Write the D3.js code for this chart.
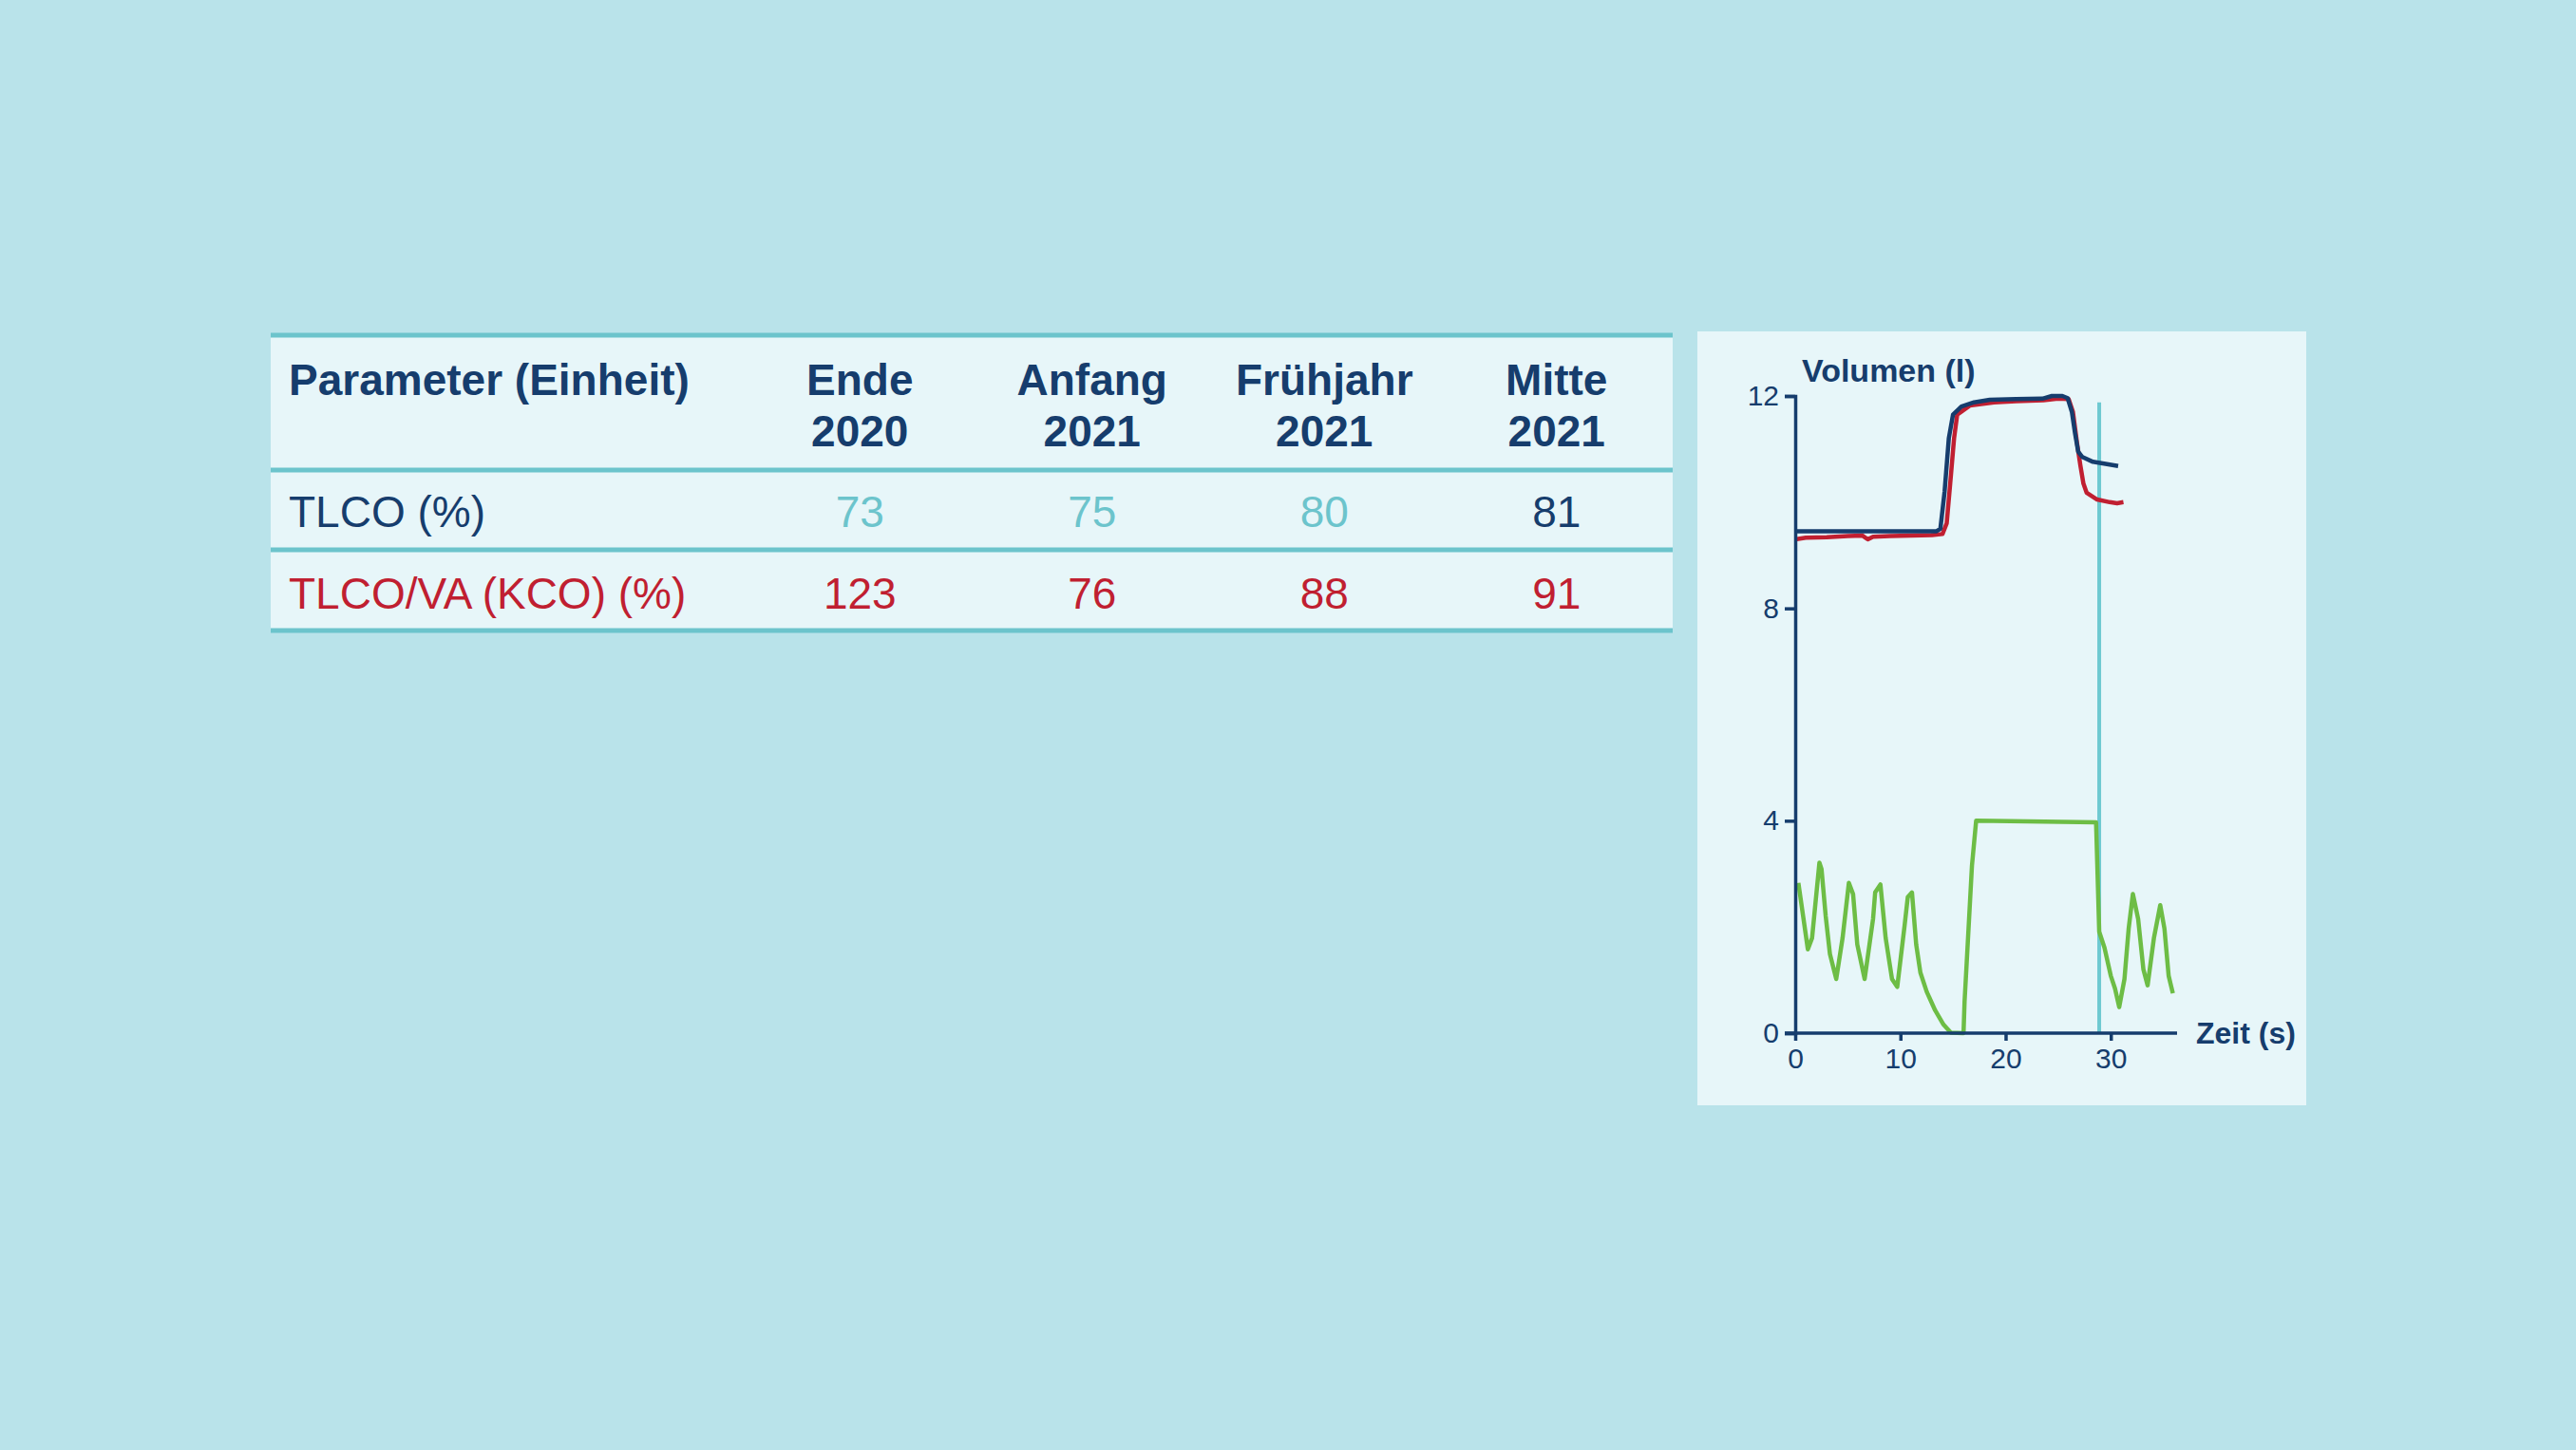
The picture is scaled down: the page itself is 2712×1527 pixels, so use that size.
<!DOCTYPE html>
<html>
<head>
<meta charset="utf-8">
<script src="https://cdn.jsdelivr.net/npm/d3@7"></script>
<style>
  html, body { margin: 0; padding: 0; background: #b9e3ea; }
  svg { display: block; font-family: "Liberation Sans", Arial, sans-serif; }
</style>
</head>
<body>
<script>
// table data
var headLine1 = ["Ende", "Anfang", "Frühjahr", "Mitte"];
var headLine2 = ["2020", "2021", "2021", "2021"];
var rowLabels = ["TLCO (%)", "TLCO/VA (KCO) (%)"];
var tlcoValues = [73, 75, 80, 81];
var kcoValues = [123, 76, 88, 91];

// curve data [time s, volume l]
var vaCurve = [[0,9.45],[3,9.45],[6,9.45],[9,9.45],[12,9.45],[13.4,9.45],[13.8,9.5],[14.2,10.2],[14.6,11.2],[15.0,11.65],[15.8,11.8],[17,11.88],[18.5,11.93],[21,11.94],[23.5,11.95],[24.4,12.0],[25.4,12.0],[25.9,11.96],[26.3,11.7],[26.6,11.3],[26.9,10.95],[27.3,10.85],[28.3,10.76],[29.5,10.72],[30.7,10.68]];
var tlcCurve = [[0,9.3],[1,9.33],[3,9.34],[5,9.36],[6.4,9.37],[6.9,9.3],[7.4,9.35],[9,9.36],[11,9.37],[13,9.38],[14,9.4],[14.4,9.6],[14.8,10.5],[15.1,11.2],[15.4,11.65],[16.6,11.82],[18.9,11.88],[21,11.9],[23.6,11.92],[25,11.95],[26,11.94],[26.4,11.7],[26.8,11.1],[27.1,10.7],[27.4,10.35],[27.7,10.18],[28.7,10.05],[29.9,10.0],[30.6,9.98],[31.2,10.0]];
var breathCurve = [[0.3,2.83],[1.2,1.58],[1.6,1.79],[2.3,3.21],[2.5,3.09],[2.9,2.2],[3.3,1.49],[3.9,1.02],[4.5,1.79],[5.1,2.83],[5.5,2.62],[5.9,1.67],[6.6,1.02],[7.4,2.15],[7.6,2.65],[8.1,2.8],[8.6,1.79],[9.2,1.02],[9.7,0.87],[10.4,2.03],[10.7,2.56],[11.1,2.65],[11.5,1.67],[11.9,1.14],[12.5,0.78],[13.3,0.43],[14.1,0.16],[14.8,0.01],[16.0,0],[16.1,0.6],[16.3,1.32],[16.8,3.15],[17.2,4.0],[28.6,3.97],[28.9,1.91],[29.4,1.61],[30.0,1.08],[30.4,0.84],[30.8,0.49],[31.3,1.02],[31.7,1.97],[32.1,2.62],[32.6,2.15],[33.1,1.2],[33.5,0.9],[34.1,1.79],[34.7,2.41],[35.1,1.97],[35.5,1.08],[35.9,0.75]];
var markerTime = 28.9;
var yTicks = [0, 4, 8, 12];
var xTicks = [0, 10, 20, 30];

var navy = "#163d6d", teal = "#6cc4cc", red = "#c01f31", green = "#6dbd45";

var width = 2712, height = 1527;
var svg = d3.select("body").append("svg")
	.attr("width", width)
	.attr("height", height);

svg.append("rect").attr("width", width).attr("height", height).attr("fill", "#b9e3ea");

// ---------- table ----------
var tableLeft = 285, tableRight = 1761;
var rowEdges = [353, 495, 579, 664];
var col = d3.scaleBand().domain(d3.range(4)).range([783, tableRight]);

svg.append("rect")
	.attr("x", tableLeft).attr("y", rowEdges[0])
	.attr("width", tableRight - tableLeft).attr("height", rowEdges[3] - rowEdges[0])
	.attr("fill", "#e7f6f9");

svg.selectAll(".rowline")
	.data(rowEdges)
	.enter().append("line")
	.attr("x1", tableLeft).attr("x2", tableRight)
	.attr("y1", function(d){ return d; }).attr("y2", function(d){ return d; })
	.attr("stroke", teal).attr("stroke-width", 5);

svg.append("text")
	.attr("x", 304).attr("y", 416)
	.attr("font-size", 46).attr("font-weight", "bold").attr("fill", navy)
	.text("Parameter (Einheit)");

var head = svg.selectAll(".head")
	.data(d3.range(4))
	.enter().append("text")
	.attr("text-anchor", "middle")
	.attr("font-size", 46).attr("font-weight", "bold").attr("fill", navy);
head.append("tspan")
	.attr("x", function(i){ return col(i) + col.bandwidth()/2; }).attr("y", 416)
	.text(function(i){ return headLine1[i]; });
head.append("tspan")
	.attr("x", function(i){ return col(i) + col.bandwidth()/2; }).attr("y", 470)
	.text(function(i){ return headLine2[i]; });

var rowBase = [555, 641];
svg.selectAll(".rowlabel")
	.data(rowLabels)
	.enter().append("text")
	.attr("x", 304).attr("y", function(d, i){ return rowBase[i]; })
	.attr("font-size", 46)
	.attr("fill", function(d, i){ return i === 0 ? navy : red; })
	.text(function(d){ return d; });

svg.selectAll(".tlco")
	.data(tlcoValues)
	.enter().append("text")
	.attr("x", function(d, i){ return col(i) + col.bandwidth()/2; }).attr("y", rowBase[0])
	.attr("text-anchor", "middle").attr("font-size", 46)
	.attr("fill", function(d, i){ return i < 3 ? teal : navy; })
	.text(function(d){ return d; });

svg.selectAll(".kco")
	.data(kcoValues)
	.enter().append("text")
	.attr("x", function(d, i){ return col(i) + col.bandwidth()/2; }).attr("y", rowBase[1])
	.attr("text-anchor", "middle").attr("font-size", 46)
	.attr("fill", red)
	.text(function(d){ return d; });

// ---------- chart ----------
svg.append("rect")
	.attr("x", 1787).attr("y", 349).attr("width", 641).attr("height", 815)
	.attr("fill", "#e7f6f9");

var x = d3.scaleLinear().domain([0, 36.3]).range([1890, 2292]);
var y = d3.scaleLinear().domain([0, 12]).range([1088, 417]);

var line = d3.line()
	.x(function(d){ return x(d[0]); })
	.y(function(d){ return y(d[1]); });

// marker line
svg.append("line")
	.attr("x1", x(markerTime)).attr("x2", x(markerTime))
	.attr("y1", y(11.88)).attr("y2", y(0))
	.attr("stroke", "#6ec9d1").attr("stroke-width", 4);

svg.append("path").datum(breathCurve)
	.attr("d", line).attr("fill", "none")
	.attr("stroke", green).attr("stroke-width", 4.5).attr("stroke-linejoin", "round");
svg.append("path").datum(tlcCurve)
	.attr("d", line).attr("fill", "none")
	.attr("stroke", red).attr("stroke-width", 4.5).attr("stroke-linejoin", "round");
svg.append("path").datum(vaCurve)
	.attr("d", line).attr("fill", "none")
	.attr("stroke", navy).attr("stroke-width", 4.5).attr("stroke-linejoin", "round");

var yAxis = svg.append("g")
	.attr("transform", "translate(" + x(0) + ",0)")
	.call(d3.axisLeft(y).tickValues(yTicks).tickSize(11).tickPadding(6).tickFormat(d3.format("d")));
var xAxis = svg.append("g")
	.attr("transform", "translate(0," + y(0) + ")")
	.call(d3.axisBottom(x).tickValues(xTicks).tickSize(8).tickPadding(8).tickFormat(d3.format("d")));

[yAxis, xAxis].forEach(function(g){
	g.select(".domain").attr("stroke", navy).attr("stroke-width", 3.5);
	g.selectAll(".tick line").attr("stroke", navy).attr("stroke-width", 3.5);
	g.selectAll(".tick text").attr("fill", navy).attr("font-size", 30)
		.attr("font-family", "Liberation Sans, Arial, sans-serif");
});
// x axis starts at the 0 tick of the y axis
xAxis.select(".domain").attr("d", "M" + (x(0) - 11) + ",0H" + x(36.3));

svg.append("text")
	.attr("x", 1897).attr("y", 402)
	.attr("font-size", 34).attr("font-weight", "bold").attr("fill", navy)
	.text("Volumen (l)");
svg.append("text")
	.attr("x", 2312).attr("y", y(0) + 11)
	.attr("font-size", 32).attr("font-weight", "bold").attr("fill", navy)
	.text("Zeit (s)");
</script>
</body>
</html>
